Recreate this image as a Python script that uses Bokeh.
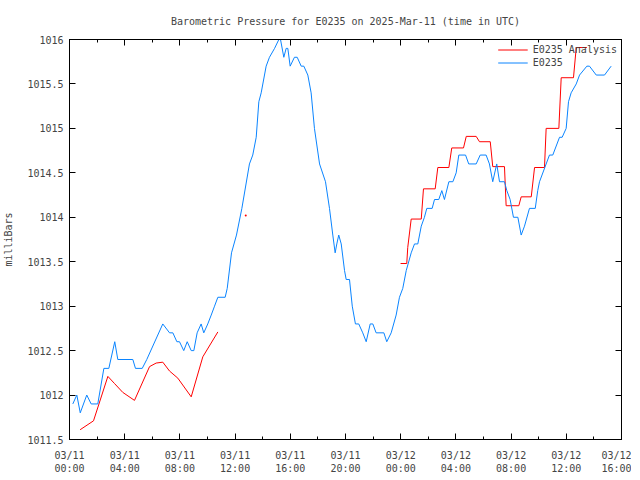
from bokeh.plotting import figure
from bokeh.models import FixedTicker, LinearAxis, Legend, LegendItem
from bokeh.embed import file_html
from bokeh.resources import INLINE

# ---- data (hours since 03/11 00:00 UTC) ----
obs_hours = [0.24, 0.53, 0.78, 1.25, 1.57, 2.05, 2.49, 2.85, 3.28, 3.5, 4.59, 4.78, 5.27, 5.6,
             6.76, 7.25, 7.49, 7.78, 7.97, 8.28, 8.53, 8.82, 9.01, 9.25, 9.54, 9.73, 10.02,
             10.27, 10.51, 10.75, 11.28, 11.43, 11.74, 12.1, 12.49, 13.04, 13.28, 13.53,
             13.72, 13.89, 14.25, 14.49, 14.86, 15.17, 15.29, 15.53, 15.7, 15.82, 15.99,
             16.3, 16.5, 16.79, 16.98, 17.27, 17.51, 17.75, 18.12, 18.55, 18.84, 19.08,
             19.25, 19.37, 19.51, 19.69, 19.93, 20.05, 20.29, 20.49, 20.72, 20.96, 21.25,
             21.5, 21.79, 21.98, 22.22, 22.78, 22.99, 23.31, 23.67, 23.91, 24.15, 24.4,
             24.76, 25.0, 25.24, 25.49, 25.72, 25.89, 26.28, 26.45, 26.76, 26.98, 27.17,
             27.49, 27.78, 28.02, 28.21, 28.7, 28.93, 29.47, 29.76, 30.19, 30.43, 30.67,
             30.96, 31.16, 31.52, 31.69, 31.93, 32.17, 32.49, 32.73, 32.97, 33.33, 33.75,
             33.93, 34.06, 34.78, 35.02, 35.51, 35.7, 35.99, 36.16, 36.35, 36.72, 36.96,
             37.49, 37.68, 38.17, 38.77, 39.25]
obs_mb = [1011.9, 1012.0, 1011.8, 1012.0, 1011.9, 1011.9, 1012.3, 1012.3, 1012.6, 1012.4,
          1012.4, 1012.3, 1012.3, 1012.4, 1012.8, 1012.7, 1012.7, 1012.6, 1012.6, 1012.5,
          1012.6, 1012.5, 1012.5, 1012.7, 1012.8, 1012.7, 1012.8, 1012.9, 1013.0, 1013.1,
          1013.1, 1013.2, 1013.6, 1013.8, 1014.1, 1014.6, 1014.7, 1014.9, 1015.3, 1015.4,
          1015.7, 1015.8, 1015.9, 1016.0, 1016.0, 1015.8, 1015.9, 1015.9, 1015.7, 1015.8,
          1015.8, 1015.7, 1015.7, 1015.6, 1015.4, 1015.0, 1014.6, 1014.4, 1014.1, 1013.8,
          1013.6, 1013.7, 1013.8, 1013.7, 1013.4, 1013.3, 1013.3, 1013.0, 1012.8, 1012.8,
          1012.7, 1012.6, 1012.8, 1012.8, 1012.7, 1012.7, 1012.6, 1012.7, 1012.9, 1013.1,
          1013.2, 1013.4, 1013.6, 1013.7, 1013.7, 1013.9, 1014.0, 1014.1, 1014.1, 1014.2,
          1014.2, 1014.3, 1014.2, 1014.4, 1014.4, 1014.5, 1014.7, 1014.7, 1014.6, 1014.6,
          1014.7, 1014.7, 1014.6, 1014.4, 1014.6, 1014.4, 1014.4, 1014.3, 1014.2, 1014.0,
          1014.0, 1013.8, 1013.9, 1014.1, 1014.1, 1014.3, 1014.4, 1014.7, 1014.7, 1014.9,
          1014.9, 1015.0, 1015.3, 1015.4, 1015.5, 1015.6, 1015.7, 1015.7, 1015.6, 1015.6,
          1015.7]

nan = float("nan")
ana_hours = [0.77, 1.74, 2.78, 3.26, 3.86, 4.71, 5.8, 6.28, 6.76, 7.25, 7.85, 8.82, 9.66, 10.75,
             nan,
             23.99, 24.44, 24.51, 24.76, 25.49, 25.65, 26.5, 26.69, 27.49, 27.7, 28.55, 28.75,
             29.47, 29.71, 30.49, 30.67, 31.52, 31.64, 32.56, 32.73, 33.46, 33.7, 34.42,
             34.54, 35.46, 35.63, 36.52, 36.72, 37.49]
ana_mb = [1011.61, 1011.71, 1012.21, 1012.13, 1012.03, 1011.94, 1012.32, 1012.36, 1012.37,
          1012.27, 1012.19, 1011.98, 1012.43, 1012.71,
          nan,
          1013.48, 1013.48, 1013.66, 1013.98, 1013.98, 1014.32, 1014.32, 1014.56, 1014.56,
          1014.78, 1014.78, 1014.91, 1014.91, 1014.85, 1014.85, 1014.57, 1014.57, 1014.13,
          1014.13, 1014.23, 1014.23, 1014.56, 1014.56, 1015.0, 1015.0, 1015.57, 1015.57,
          1015.91, 1015.91]
ana_single_hours = [12.77]
ana_single_mb = [1014.02]

x_ticks = [0, 4, 8, 12, 16, 20, 24, 28, 32, 36, 40]
x_tick_labels = ["03/11\n00:00", "03/11\n04:00", "03/11\n08:00", "03/11\n12:00", "03/11\n16:00",
                 "03/11\n20:00", "03/12\n00:00", "03/12\n04:00", "03/12\n08:00", "03/12\n12:00",
                 "03/12\n16:00"]
x_minor = [0, 2, 4, 6, 8, 10, 12, 14, 16, 18, 20, 22, 24, 26, 28, 30, 32, 34, 36, 38, 40]
y_ticks = [1011.5, 1012, 1012.5, 1013, 1013.5, 1014, 1014.5, 1015, 1015.5, 1016]
y_tick_labels = ["1011.5", "1012", "1012.5", "1013", "1013.5", "1014", "1014.5", "1015",
                 "1015.5", "1016"]

FONT = "DejaVu Sans Mono"
RED = "#ff0000"
BLUE = "#0a84ff"

p = figure(frame_width=552, frame_height=400, x_range=(0, 40), y_range=(1011.5, 1016),
           output_backend="svg", toolbar_location=None,
           min_border_left=62, min_border_right=10, min_border_top=0, min_border_bottom=10,
           title="Barometric Pressure for E0235 on 2025-Mar-11 (time in UTC)")
p.title.text_font = FONT
p.title.text_font_size = "10px"
p.title.text_font_style = "normal"
p.title.align = "center"
p.title.standoff = 26
p.grid.visible = False
p.outline_line_color = "black"
p.outline_line_width = 1
p.background_fill_color = "white"
p.border_fill_color = "white"

# bottom axis
xa = p.xaxis[0]
xa.ticker = FixedTicker(ticks=x_ticks, minor_ticks=x_minor)
xa.major_label_overrides = {t: l for t, l in zip(x_ticks, x_tick_labels)}
xa.major_label_text_font = FONT
xa.major_label_text_font_size = "10px"
xa.major_label_standoff = 10
xa.major_tick_in = 6
xa.major_tick_out = 0
xa.minor_tick_in = 3
xa.minor_tick_out = 0
xa.axis_line_color = "black"

# left axis
ya = p.yaxis[0]
ya.ticker = FixedTicker(ticks=y_ticks)
ya.major_label_overrides = {t: l for t, l in zip(y_ticks, y_tick_labels)}
ya.major_label_text_font = FONT
ya.major_label_text_font_size = "10px"
ya.major_label_standoff = 6
ya.major_tick_in = 6
ya.major_tick_out = 0
ya.minor_tick_line_color = None
ya.axis_label = "milliBars"
ya.axis_label_text_font = FONT
ya.axis_label_text_font_size = "10px"
ya.axis_label_text_font_style = "normal"
ya.axis_label_standoff = 10

# mirrored axes (ticks only, blank labels)
top = LinearAxis(ticker=FixedTicker(ticks=x_ticks, minor_ticks=x_minor),
                 major_tick_in=6, major_tick_out=0, minor_tick_in=3, minor_tick_out=0,
                 major_label_overrides={t: "" for t in x_ticks}, major_label_standoff=0)
p.add_layout(top, "above")
right = LinearAxis(ticker=FixedTicker(ticks=y_ticks),
                   major_tick_in=6, major_tick_out=0, minor_tick_line_color=None,
                   major_label_overrides={t: "" for t in y_ticks}, major_label_standoff=0)
p.add_layout(right, "right")

r_ana = p.line(ana_hours, ana_mb, line_color=RED, line_width=1)
p.scatter(ana_single_hours, ana_single_mb, size=2, color=RED, line_width=0)
r_obs = p.line(obs_hours, obs_mb, line_color=BLUE, line_width=1)

legend = Legend(items=[LegendItem(label="E0235 Analysis", renderers=[r_ana]),
                       LegendItem(label="E0235", renderers=[r_obs])],
                location="top_right")
legend.label_text_font = FONT
legend.label_text_font_size = "10px"
legend.background_fill_alpha = 0
legend.border_line_alpha = 0
legend.glyph_width = 30
legend.glyph_height = 13
legend.label_height = 13
legend.spacing = 0
legend.padding = 2
legend.margin = 2
p.add_layout(legend)

open("out.html", "w").write(file_html(p, INLINE))
